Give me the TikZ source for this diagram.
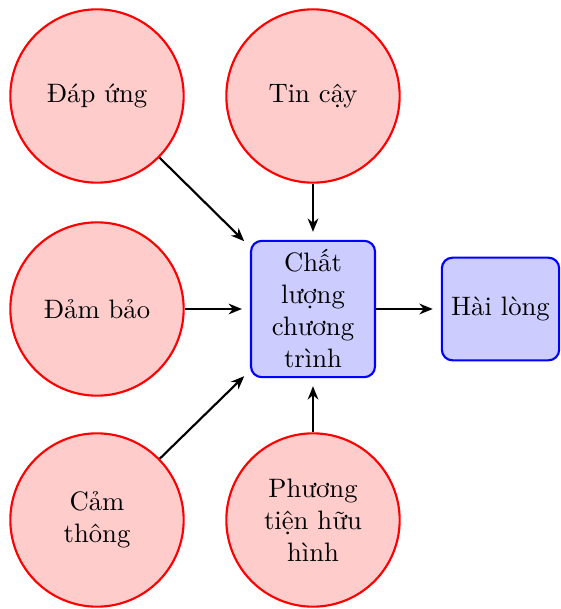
\documentclass[tikz,border=0pt]{standalone}
\usetikzlibrary{arrows.meta}
\begin{document}
\begin{tikzpicture}[x=0.375pt,y=-0.375pt,
  factor/.style={circle,draw=red,fill=red!20,thick,minimum size=65pt,inner sep=1pt,text width=1.5cm,align=center},
  boxnode/.style={rectangle,rounded corners=4pt,draw=blue,fill=blue!20,thick,align=center},
  arr/.style={-{Stealth[length=5pt,width=4pt]},thick,shorten >=3pt}]
\useasboundingbox (0,0) rectangle (560,609);
\node[factor] (dap) at (97,96) {Đáp ứng};
\node[factor] (tin) at (313,96) {Tin cậy};
\node[factor] (dam) at (97,309) {Đảm bảo};
\node[factor] (cam) at (97,520) {Cảm thông};
\node[factor] (phuong) at (313,520) {Phương tiện hữu hình};
\node[boxnode,text width=1.4cm] (cl) at (313,309) {Chất lượng chương trình};
\node[boxnode,minimum height=38.5pt,minimum width=44pt] (hl) at (500.5,309) {Hài lòng};
\draw[arr] (dap) -- (cl);
\draw[arr] (tin) -- (cl);
\draw[arr] (dam) -- (cl);
\draw[arr] (cam) -- (cl);
\draw[arr] (phuong) -- (cl);
\draw[arr] (cl) -- (hl);
\end{tikzpicture}
\end{document}
